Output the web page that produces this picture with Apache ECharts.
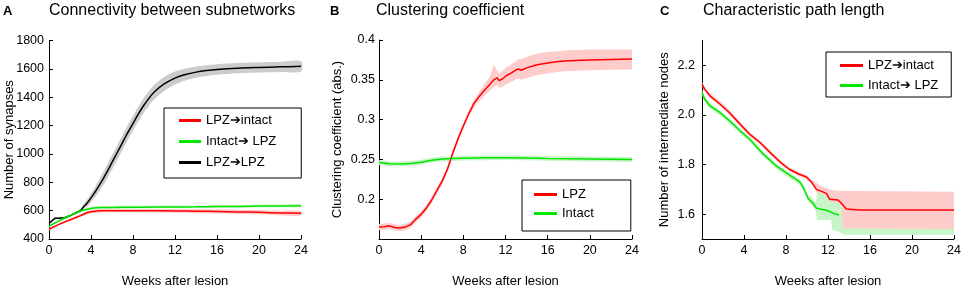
<!DOCTYPE html>
<html>
<head>
<meta charset="utf-8">
<script src="https://cdn.jsdelivr.net/npm/echarts@6/dist/echarts.min.js"></script>
<style>
  html, body { margin: 0; padding: 0; background: #fff; }
  #chart { width: 964px; height: 288px; }
</style>
</head>
<body>
<div id="chart"></div>
<script>
// ---- panel A: connectivity between subnetworks ----
const aBlackWeeks = [0, 0.3, 0.6, 1, 1.5, 2, 2.5, 3, 3.3, 3.6, 4, 4.5, 5, 5.5, 6, 6.5, 7, 7.5, 8, 8.5, 9, 9.5, 10, 11, 12, 13, 14, 15, 16, 18, 20, 22, 24]
const aBlack = [510, 530, 546, 547, 550, 565, 583, 600, 628, 650, 690, 745, 805, 870, 940, 1010, 1080, 1150, 1215, 1280, 1340, 1390, 1435, 1495, 1535, 1560, 1577, 1588, 1596, 1605, 1610, 1614, 1618]
const aBlackSpread = [5, 5, 8, 8, 8, 8, 10, 12, 18, 25, 30, 38, 45, 50, 52, 52, 52, 52, 52, 52, 52, 52, 52, 50, 46, 42, 40, 38, 37, 36, 36, 36, 36]

const aWeeks = [0, 1, 2, 3, 3.75, 4.5, 5, 6, 8, 10, 12, 14, 16, 18, 20, 22, 24]
const aRed = [468, 505, 535, 565, 588, 597, 599, 600, 600, 599, 598, 596, 594, 591, 588, 584, 581]
const aRedSpread = [8, 8, 10, 10, 12, 12, 12, 12, 12, 12, 13, 14, 15, 15, 16, 16, 16]
const aGreen = [490, 530, 565, 598, 612, 620, 622, 623, 624, 625, 626, 627, 629, 630, 632, 633, 634]
const aGreenSpread = [6, 7, 8, 9, 10, 10, 10, 10, 10, 10, 10, 10, 10, 10, 10, 10, 10]

// ---- panel B: clustering coefficient ----
const bRedWeeks = [0, 0.5, 1, 1.5, 2, 2.5, 3, 3.5, 4, 4.5, 5, 5.5, 6, 6.5, 7, 7.5, 8, 8.5, 9, 9.5, 10, 10.5, 10.9, 11.2, 11.4, 11.7, 12.1, 12.5, 13, 13.2, 13.5, 14, 15, 16, 17, 18, 20, 22, 24]
const bRed = [0.165, 0.1655, 0.1665, 0.1645, 0.1637, 0.165, 0.168, 0.175, 0.181, 0.189, 0.199, 0.211, 0.223, 0.238, 0.258, 0.276, 0.292, 0.307, 0.320, 0.329, 0.337, 0.344, 0.350, 0.3525, 0.349, 0.351, 0.3554, 0.358, 0.3625, 0.3635, 0.362, 0.365, 0.369, 0.371, 0.373, 0.374, 0.375, 0.3755, 0.376]
const bRedLo = [0.161, 0.1615, 0.1625, 0.1605, 0.1597, 0.161, 0.164, 0.171, 0.177, 0.185, 0.195, 0.207, 0.219, 0.234, 0.254, 0.272, 0.288, 0.303, 0.315, 0.323, 0.330, 0.336, 0.341, 0.343, 0.340, 0.341, 0.345, 0.347, 0.351, 0.352, 0.350, 0.352, 0.356, 0.358, 0.360, 0.361, 0.362, 0.3625, 0.363]
const bRedHi = [0.169, 0.1695, 0.1705, 0.1685, 0.1677, 0.169, 0.172, 0.179, 0.185, 0.193, 0.203, 0.215, 0.227, 0.242, 0.262, 0.280, 0.296, 0.311, 0.325, 0.335, 0.344, 0.354, 0.369, 0.362, 0.358, 0.361, 0.366, 0.369, 0.374, 0.376, 0.376, 0.379, 0.383, 0.385, 0.386, 0.387, 0.388, 0.388, 0.388]

const bGreenWeeks = [0, 1, 2, 3, 4, 5, 6, 7, 8, 10, 12, 14, 16, 20, 24]
const bGreen = [0.246, 0.2445, 0.2443, 0.245, 0.2465, 0.249, 0.2505, 0.251, 0.2515, 0.252, 0.2522, 0.2518, 0.2512, 0.2505, 0.250]
const bGreenSpread = [0.003, 0.003, 0.003, 0.003, 0.003, 0.003, 0.003, 0.003, 0.003, 0.003, 0.003, 0.003, 0.003, 0.003, 0.003]

// ---- panel C: characteristic path length ----
const cRedWeeks = [0, 0.25, 0.75, 1.7, 2.6, 3.6, 4.5, 5.5, 6.6, 7.5, 8.35, 9.2, 9.94, 10.42, 10.9, 11.4, 11.85, 12.16, 12.95, 13.27, 13.4, 13.75, 15, 18, 24]
const cRed = [2.124, 2.104, 2.077, 2.044, 2.010, 1.964, 1.924, 1.890, 1.844, 1.808, 1.780, 1.762, 1.750, 1.730, 1.700, 1.692, 1.684, 1.660, 1.657, 1.644, 1.636, 1.621, 1.617, 1.617, 1.617]
const cRedLo = [2.116, 2.096, 2.069, 2.036, 2.002, 1.956, 1.916, 1.882, 1.836, 1.800, 1.772, 1.754, 1.742, 1.722, 1.690, 1.682, 1.674, 1.650, 1.647, 1.634, 1.545, 1.543, 1.542, 1.541, 1.540]
const cRedHi = [2.132, 2.114, 2.089, 2.056, 2.022, 1.974, 1.932, 1.898, 1.852, 1.816, 1.788, 1.770, 1.758, 1.740, 1.726, 1.712, 1.705, 1.700, 1.694, 1.693, 1.693, 1.693, 1.693, 1.692, 1.690]

const cGreenWeeks = [0, 0.25, 0.75, 1.7, 2.6, 3.6, 4.5, 5.8, 7, 8.35, 9.3, 9.62, 10.1, 10.57, 10.9, 12, 12.48, 13.05]
const cGreen = [2.090, 2.064, 2.037, 2.010, 1.977, 1.937, 1.904, 1.844, 1.797, 1.757, 1.730, 1.710, 1.664, 1.644, 1.624, 1.614, 1.604, 1.597]
const cGreenBandWeeks = [0, 0.25, 0.75, 1.7, 2.6, 3.6, 4.5, 5.8, 7, 8.35, 9.3, 9.62, 10.1, 10.57, 10.85, 10.95, 12.3, 12.4, 13.05, 13.5, 24]
const cGreenLo = [2.080, 2.052, 2.025, 1.998, 1.965, 1.925, 1.892, 1.832, 1.785, 1.745, 1.718, 1.698, 1.652, 1.632, 1.612, 1.577, 1.577, 1.537, 1.530, 1.517, 1.517]
const cGreenHi = [2.100, 2.074, 2.047, 2.020, 1.987, 1.947, 1.914, 1.854, 1.807, 1.767, 1.740, 1.722, 1.680, 1.660, 1.645, 1.690, 1.690, 1.690, 1.690, 1.545, 1.545]

const cTicks = [1.6, 1.8, 2.0, 2.2]

const RED = '#ff0000'
const GREEN = '#00e600'
const BLACK = '#000000'
const FONT = 'Liberation Sans, Arial, sans-serif'

function pairs(xs, ys) {
  return xs.map((x, i) => [x, ys[i]])
}

// shaded spread drawn as one polygon through the axis scales
function band(id, gi, xs, lo, hi, color, smooth) {
  return {
    name: id, type: 'custom', xAxisIndex: gi, yAxisIndex: gi, silent: true,
    data: [[xs[0], lo[0]]],
    renderItem: function (params, api) {
      const top = xs.map((x, i) => api.coord([x, hi[i]]))
      const bottom = xs.map((x, i) => api.coord([x, lo[i]])).reverse()
      return {
        type: 'polygon',
        shape: { points: top.concat(bottom), smooth: smooth || 0 },
        style: { fill: color, stroke: null }
      }
    }
  }
}

function meanLine(name, gi, xs, ys, color, smooth) {
  return {
    name, type: 'line', xAxisIndex: gi, yAxisIndex: gi, symbol: 'none', silent: true,
    smooth: smooth || false,
    itemStyle: { color },
    lineStyle: { color, width: 1.5 },
    data: pairs(xs, ys)
  }
}

const lo = (m, s) => m.map((v, i) => v - s[i])
const hi = (m, s) => m.map((v, i) => v + s[i])

function xAxis(gi) {
  return {
    gridIndex: gi, type: 'value', min: 0, max: 24, interval: 4,
    name: 'Weeks after lesion', nameLocation: 'middle', nameGap: 36, nameMoveOverlap: false,
    nameTextStyle: { fontSize: 13, color: '#000', fontFamily: FONT },
    axisLine: { lineStyle: { color: '#000', width: 1 } },
    axisTick: { inside: true, length: 4, lineStyle: { color: '#000' } },
    axisLabel: { fontSize: 12.5, color: '#000', fontFamily: FONT, margin: 5 },
    splitLine: { show: false }
  }
}

function yAxis(gi, extra) {
  return Object.assign({
    gridIndex: gi, type: 'value', nameLocation: 'middle', nameMoveOverlap: false,
    nameTextStyle: { fontSize: 13, color: '#000', fontFamily: FONT },
    axisLine: { show: true, lineStyle: { color: '#000', width: 1 } },
    axisTick: { show: true, inside: true, length: 4, lineStyle: { color: '#000' } },
    splitLine: { show: false }
  }, extra)
}

const chart = echarts.init(document.getElementById('chart'), null, { renderer: 'canvas' })

const legendBase = {
  orient: 'vertical', icon: 'rect', itemWidth: 22, itemHeight: 3,
  borderColor: '#000', borderWidth: 1, borderRadius: 0, backgroundColor: '#fff',
  selectedMode: false,
  textStyle: { fontSize: 13, color: '#000', fontFamily: FONT }
}

const gridBase = { containLabel: false, outerBoundsMode: 'none' }

const option = {
  animation: false,
  backgroundColor: '#fff',
  title: [
    { text: 'A', left: 3, top: 5, padding: 0, textStyle: { fontSize: 13, fontWeight: 'bold', color: '#000', fontFamily: FONT } },
    { text: 'Connectivity between subnetworks', left: 49, top: 3, padding: 0, textStyle: { fontSize: 16, fontWeight: 'normal', color: '#000', fontFamily: FONT } },
    { text: 'B', left: 330, top: 5, padding: 0, textStyle: { fontSize: 13, fontWeight: 'bold', color: '#000', fontFamily: FONT } },
    { text: 'Clustering coefficient', left: 376, top: 3, padding: 0, textStyle: { fontSize: 16, fontWeight: 'normal', color: '#000', fontFamily: FONT } },
    { text: 'C', left: 660, top: 5, padding: 0, textStyle: { fontSize: 13, fontWeight: 'bold', color: '#000', fontFamily: FONT } },
    { text: 'Characteristic path length', left: 703, top: 3, padding: 0, textStyle: { fontSize: 16, fontWeight: 'normal', color: '#000', fontFamily: FONT } }
  ],
  grid: [
    Object.assign({}, gridBase, { left: 49, top: 40.5, width: 252, height: 198.5 }),
    Object.assign({}, gridBase, { left: 379, top: 40, width: 253, height: 199 }),
    Object.assign({}, gridBase, { left: 702, top: 40.5, width: 252, height: 198.5 })
  ],
  legend: [
    Object.assign({}, legendBase, { data: ['LPZ➔intact', 'Intact➔ LPZ', 'LPZ➔LPZ'], left: 164, top: 108, padding: [6, 25, 9, 15], itemGap: 8 }),
    Object.assign({}, legendBase, { data: ['LPZ', 'Intact'], left: 522, top: 180, padding: [8, 37, 11, 12], itemGap: 6, itemWidth: 23 }),
    Object.assign({}, legendBase, { data: ['LPZ➔intact', 'Intact➔ LPZ'], left: 826, top: 52, padding: [7, 13, 5, 14], itemGap: 7, itemWidth: 23 })
  ],
  xAxis: [xAxis(0), xAxis(1), xAxis(2)],
  yAxis: [
    yAxis(0, {
      min: 400, max: 1800, interval: 200, name: 'Number of synapses', nameGap: 33,
      axisLabel: { fontSize: 12.5, color: '#000', fontFamily: FONT, margin: 5, formatter: v => String(v) }
    }),
    yAxis(1, {
      min: 0.15, max: 0.4, interval: 0.05, name: 'Clustering coefficient (abs.)', nameGap: 35,
      axisLabel: {
        fontSize: 12.5, color: '#000', fontFamily: FONT, margin: 4,
        formatter: v => (Math.abs(v - 0.15) < 1e-9 ? '' : String(+v.toFixed(2)))
      }
    }),
    yAxis(2, {
      min: 1.5, max: 2.3, name: 'Number of intermediate nodes', nameGap: 31,
      axisTick: { show: true, inside: true, length: 4, lineStyle: { color: '#000' }, customValues: cTicks },
      axisLabel: {
        fontSize: 12.5, color: '#000', fontFamily: FONT, margin: 7, customValues: cTicks,
        formatter: v => v.toFixed(1)
      }
    })
  ],
  series: [
    // A
    band('aBlackBand', 0, aBlackWeeks, lo(aBlack, aBlackSpread), hi(aBlack, aBlackSpread), '#cccccc', 0.3),
    meanLine('LPZ➔LPZ', 0, aBlackWeeks, aBlack, BLACK, 0.3),
    band('aRedBand', 0, aWeeks, lo(aRed, aRedSpread), hi(aRed, aRedSpread), '#ffcccc', 0.3),
    band('aGreenBand', 0, aWeeks, lo(aGreen, aGreenSpread), hi(aGreen, aGreenSpread), '#c8f5c8', 0.3),
    meanLine('LPZ➔intact', 0, aWeeks, aRed, RED, 0.3),
    meanLine('Intact➔ LPZ', 0, aWeeks, aGreen, GREEN, 0.3),
    // B
    band('bRedBand', 1, bRedWeeks, bRedLo, bRedHi, '#ffcccc'),
    band('bGreenBand', 1, bGreenWeeks, lo(bGreen, bGreenSpread), hi(bGreen, bGreenSpread), '#c8f5c8'),
    meanLine('LPZ', 1, bRedWeeks, bRed, RED),
    meanLine('Intact', 1, bGreenWeeks, bGreen, GREEN),
    // C
    band('cGreenBand', 2, cGreenBandWeeks, cGreenLo, cGreenHi, '#c8f5c8'),
    band('cRedBand', 2, cRedWeeks, cRedLo, cRedHi, '#ffcccc'),
    meanLine('LPZ➔intact', 2, cRedWeeks, cRed, RED),
    meanLine('Intact➔ LPZ', 2, cGreenWeeks, cGreen, GREEN)
  ]
}

chart.setOption(option)
</script>
</body>
</html>
